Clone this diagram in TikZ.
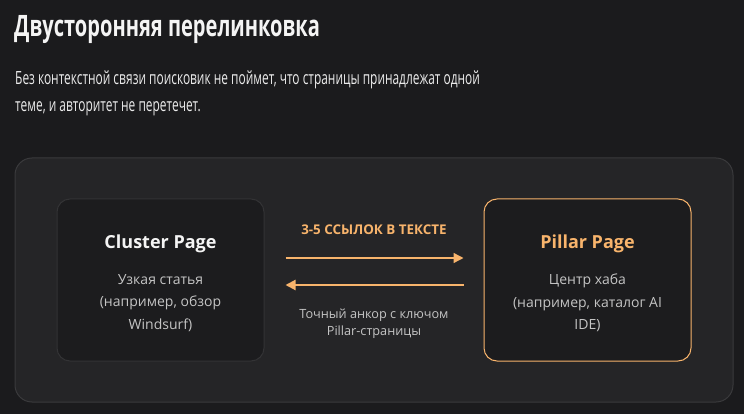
\documentclass[tikz,border=0pt]{standalone}
\usepackage{fontspec}
\setmainfont{Open Sans}
\newfontfamily\narrowfont[FakeStretch=0.68]{Open Sans}
\newfontfamily\leadfont[FakeStretch=0.655]{Open Sans}
\usepackage{xcolor}
\usetikzlibrary{positioning,arrows.meta}

\definecolor{pagebg}{HTML}{1B1B1D}
\definecolor{panelbg}{HTML}{252527}
\definecolor{panelline}{HTML}{3A3A3C}
\definecolor{boxbg}{HTML}{1C1C1E}
\definecolor{boxline}{HTML}{333335}
\definecolor{linkorange}{HTML}{F8B46C}
\definecolor{bodygray}{HTML}{C4C4C4}
\definecolor{titlewhite}{HTML}{F4F4F4}

\tikzset{
  pagebox/.style={draw=boxline, fill=boxbg, line width=1pt, rounded corners=13pt,
    minimum width=207pt, minimum height=162pt},
  pagetitle/.style={font=\fontsize{18}{22}\selectfont\bfseries},
  pagebody/.style={font=\fontsize{14}{22.5}\selectfont, text=bodygray, align=center},
  linkarrow/.style={draw=linkorange, line width=2pt, -{Triangle[length=10pt,width=10pt]}},
  linklabel/.style={font=\fontsize{12.7}{17}\selectfont, align=center},
  leadline/.style={anchor=base west, text=titlewhite!92!gray, font=\leadfont\fontsize{18.2}{27}\selectfont, inner sep=0pt}
}

\begin{document}
\begin{tikzpicture}[x=1pt,y=-1pt]
\useasboundingbox (0,0) rectangle (744,414);
\fill[pagebg] (0,0) rectangle (744,414);

% heading
\node[anchor=base west, text=titlewhite, font=\narrowfont\fontsize{29.5}{32}\selectfont\bfseries, inner sep=0pt]
  (heading) at (14,37) {Двусторонняя перелинковка};
\node[leadline] (leadone) at (15,85) {Без контекстной связи поисковик не поймет, что страницы принадлежат одной};
\node[leadline] (leadtwo) at (15,112) {теме, и авторитет не перетечет.};

% panel
\filldraw[fill=panelbg, draw=panelline, line width=1pt, rounded corners=17pt] (15,158) rectangle (733,402);
\foreach \g in {1,...,10}
  \fill[white, opacity=0.004, rounded corners=16pt] ({483-3*\g},{199-3*\g}) rectangle ({692+3*\g},{361+3*\g});

% pages
\node[pagebox] (cluster) at (160.5,280) {};
\node[pagebox, draw=linkorange] (pillar) at (587.5,280) {};

\node[pagetitle, text=titlewhite] (clustertitle) at ([yshift=36pt]cluster.center) {Cluster Page};
\node[pagebody] (clusterbody) at ([yshift=-23pt]cluster.center) {Узкая статья\\(например, обзор\\Windsurf)};
\node[pagetitle, text=linkorange] (pillartitle) at ([yshift=36pt]pillar.center) {Pillar Page};
\node[pagebody] (pillarbody) at ([yshift=-23pt]pillar.center) {Центр хаба\\(например, каталог AI\\IDE)};

% links
\draw[linkarrow, line width=1.4pt, shorten <=21pt, shorten >=20pt] ([yshift=22pt]cluster.east) -- ([yshift=22pt]pillar.west);
\draw[linkarrow, shorten <=20pt, shorten >=21pt] ([yshift=-5pt]pillar.west) -- ([yshift=-5pt]cluster.east);

\node[linklabel, text=linkorange, font=\fontsize{13.4}{17}\selectfont\bfseries] (linktop) at (374,230) {3-5 ССЫЛОК В ТЕКСТЕ};
\node[linklabel, text=bodygray] (linkbottom) at (374,323.5) {Точный анкор с ключом\\Pillar-страницы};
\end{tikzpicture}
\end{document}
